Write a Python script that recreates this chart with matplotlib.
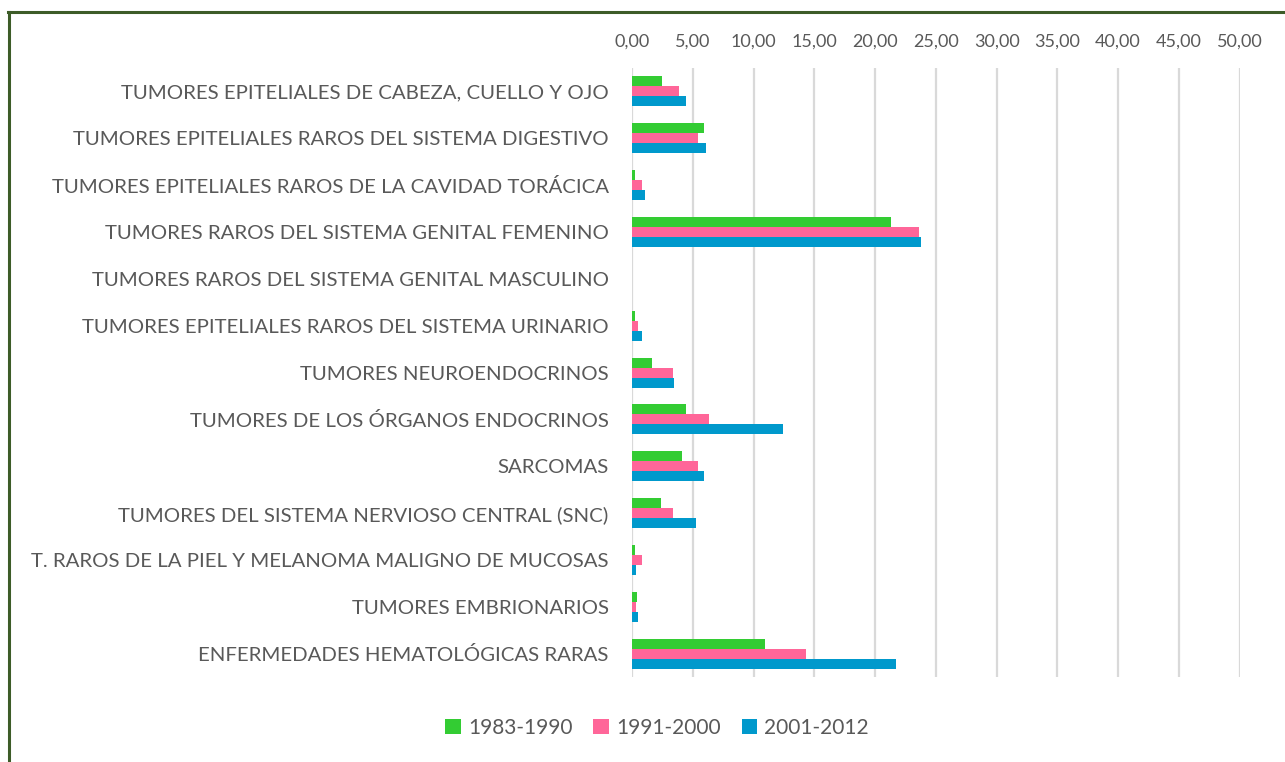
import matplotlib
matplotlib.use("Agg")
import matplotlib.pyplot as plt
import numpy as np
from matplotlib.lines import Line2D

# Data
categories = [
    "TUMORES EPITELIALES DE CABEZA, CUELLO Y OJO",
    "TUMORES EPITELIALES RAROS DEL SISTEMA DIGESTIVO",
    "TUMORES EPITELIALES RAROS DE LA CAVIDAD TORÁCICA",
    "TUMORES RAROS DEL SISTEMA GENITAL FEMENINO",
    "TUMORES RAROS DEL SISTEMA GENITAL MASCULINO",
    "TUMORES EPITELIALES RAROS DEL SISTEMA URINARIO",
    "TUMORES NEUROENDOCRINOS",
    "TUMORES DE LOS ÓRGANOS ENDOCRINOS",
    "SARCOMAS",
    "TUMORES DEL SISTEMA NERVIOSO CENTRAL (SNC)",
    "T. RAROS DE LA PIEL Y MELANOMA MALIGNO DE MUCOSAS",
    "TUMORES EMBRIONARIOS",
    "ENFERMEDADES HEMATOLÓGICAS RARAS",
]
p1983 = [2.47, 5.88, 0.25, 21.28, 0.0, 0.25, 1.65, 4.40, 4.07, 2.39, 0.20, 0.39, 10.93]
p1991 = [3.87, 5.44, 0.80, 23.60, 0.0, 0.50, 3.35, 6.29, 5.44, 3.35, 0.82, 0.28, 14.31]
p2001 = [4.40, 6.10, 1.02, 23.80, 0.0, 0.82, 3.46, 12.44, 5.88, 5.25, 0.28, 0.50, 21.70]
series = ["1983-1990", "1991-2000", "2001-2012"]
colors = ["#33cc33", "#ff6699", "#0099cc"]
xticks = np.arange(0, 55, 5)

plt.rcParams['font.family'] = ['Lato', 'DejaVu Sans']
text_color = "#595959"

fig = plt.figure(figsize=(12.85, 7.62), dpi=100)
ax = fig.add_axes([0.4921, 0.1112, 0.4725, 0.7997])

y = np.arange(len(categories))
h = 0.213
for i, (vals, lab, c) in enumerate(zip([p1983, p1991, p2001], series, colors)):
    ax.barh(y + (i - 1) * h, vals, height=h, color=c, label=lab, zorder=3)

ax.set_ylim(len(categories) - 0.5, -0.5)
ax.set_yticks(y)
ax.set_yticklabels(categories, fontsize=14.7, color=text_color)
ax.set_xlim(0, 50)
ax.set_xticks(xticks)
ax.xaxis.set_major_formatter(matplotlib.ticker.FuncFormatter(lambda v, p: ("%.2f" % v).replace(".", ",")))
ax.tick_params(axis='x', labelsize=13, labelcolor=text_color)
ax.xaxis.tick_top()
ax.tick_params(axis='both', length=0)
ax.tick_params(axis='y', pad=17)
ax.tick_params(axis='x', pad=13)
ax.grid(axis='x', color="#d9d9d9", linewidth=1.6, zorder=0)
for s in ax.spines.values():
    s.set_visible(False)

leg = fig.legend(loc='center', bbox_to_anchor=(657 / 1285, 1 - 728 / 762), ncol=3,
                 frameon=False, fontsize=15, handlelength=0.75, handleheight=0.75,
                 handletextpad=0.35, columnspacing=1.0)
for t in leg.get_texts():
    t.set_color(text_color)

# outer frame (top and left lines)
bc = "#3d5c28"
fig.add_artist(Line2D([8 / 1285, 1], [1 - 12 / 762, 1 - 12 / 762], color=bc, linewidth=2.2))
fig.add_artist(Line2D([9 / 1285, 9 / 1285], [0, 1 - 12 / 762], color=bc, linewidth=2.2))

fig.savefig("out.png", dpi=100)
